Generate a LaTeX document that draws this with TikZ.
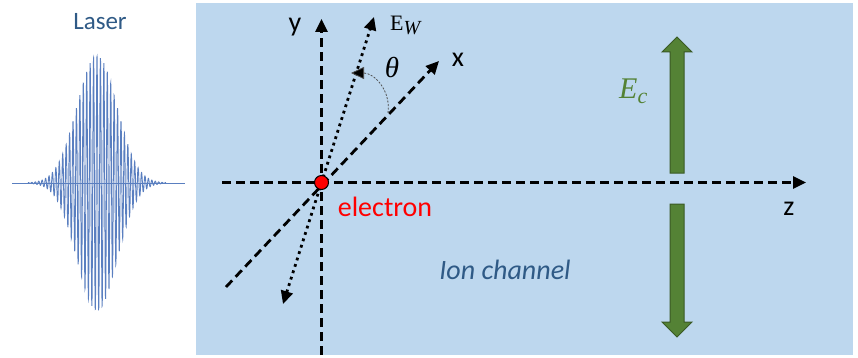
\documentclass[tikz,border=0pt]{standalone}
\usepackage{fontspec}
\setmainfont{Carlito}
\newfontfamily\mserif{Liberation Serif}
\usetikzlibrary{arrows.meta}
\definecolor{chan}{HTML}{BDD7EE}
\definecolor{laserblue}{HTML}{5A7FC0}
\definecolor{txtblue}{HTML}{2F5A86}
\definecolor{ecgreen}{HTML}{548235}
\definecolor{ecdark}{HTML}{3A5A25}
\tikzset{
  axis/.style={line width=2.8pt, dash pattern=on 9pt off 5pt, -{Triangle[length=13pt,width=12pt]}},
  fieldline/.style={line width=2.8pt, dash pattern=on 2.8pt off 3.9pt, {Triangle[length=13pt,width=12pt]}-{Triangle[length=13pt,width=12pt]}},
  anglearc/.style={line width=0.8pt, draw=black!70, dash pattern=on 2pt off 1.5pt, -{Triangle[length=13pt,width=12pt,fill=black]}},
  greenarrow/.style={fill=ecgreen, draw=ecdark, line width=1pt},
  lbl/.style={inner sep=0pt, font=\fontsize{28}{30}\selectfont},
}
\begin{document}
\begin{tikzpicture}[x=1pt,y=-1pt]
\useasboundingbox (0,0) rectangle (858,358);
\fill[white] (0,0) rectangle (858,358);
% channel background
\fill[chan] (196,3) rectangle (853,355);
% laser
\node[lbl, text=txtblue, font=\fontsize{25}{27}\selectfont] (laser) at (100,22) {Laser};
\draw[laserblue, line width=0.6pt] (12,183) -- (185,183);
\draw[laserblue, line width=0.9pt] plot[domain=28:166, samples=1200, smooth]
  (\x, {183 - 127*exp(0-((\x-97)*(\x-97))/800)*cos(105*(\x-97))});
% coordinates
\coordinate (o) at (321.5,182.5);
\coordinate (zL) at (222,182.5);
\coordinate (zR) at (806,182.5);
\coordinate (yB) at (321.5,355);
\coordinate (yT) at (321.5,19);
\coordinate (xL) at (226,287);
\coordinate (xT) at (439,61);
\coordinate (wL) at (283,304);
\coordinate (wT) at (374,17);
\coordinate (a1) at (388,113);
\coordinate (a2) at (351,73);
% axes
\draw[axis] (zL) -- (zR);
\draw[axis] (yB) -- (yT);
\draw[axis] (xL) -- (xT);
\draw[fieldline] (wL) -- (wT);
\draw[anglearc] (a1) .. controls (391,90) and (374,73) .. (a2);
% green field arrows
\draw[greenarrow] (670,173) -- (670,52) -- (662,52) -- (677,37) -- (692,52) -- (684,52) -- (684,173) -- cycle;
\draw[greenarrow] (670,204) -- (670,322) -- (662,322) -- (677,337) -- (692,322) -- (684,322) -- (684,204) -- cycle;
% electron
\node[circle, fill=red, draw=black, line width=1pt, minimum size=14pt, inner sep=0pt] (e) at (o) {};
% labels
\node[lbl] (ly) at (295,27) {y};
\node[lbl] (lx) at (458,60) {x};
\node[lbl] (lz) at (789,209) {z};
\node[inner sep=0pt, anchor=base west, font=\fontsize{22}{24}\selectfont\mserif] (lw) at (390,31)
  {E\raisebox{-4pt}{\fontsize{20}{20}\selectfont\itshape W}};
\node[inner sep=0pt, font=\fontsize{29}{31}\selectfont\mserif\itshape] (lt) at (392,68) {θ};
\node[inner sep=0pt, anchor=base west, text=ecgreen, font=\fontsize{30}{32}\selectfont\mserif\itshape] (lc) at (619,99)
  {E\raisebox{-5pt}{\fontsize{22}{22}\selectfont c}};
\node[lbl, text=red] (le) at (385,207) {electron};
\node[lbl, text=txtblue, font=\fontsize{28}{30}\selectfont\itshape] (li) at (505,270) {Ion channel};
\end{tikzpicture}
\end{document}
